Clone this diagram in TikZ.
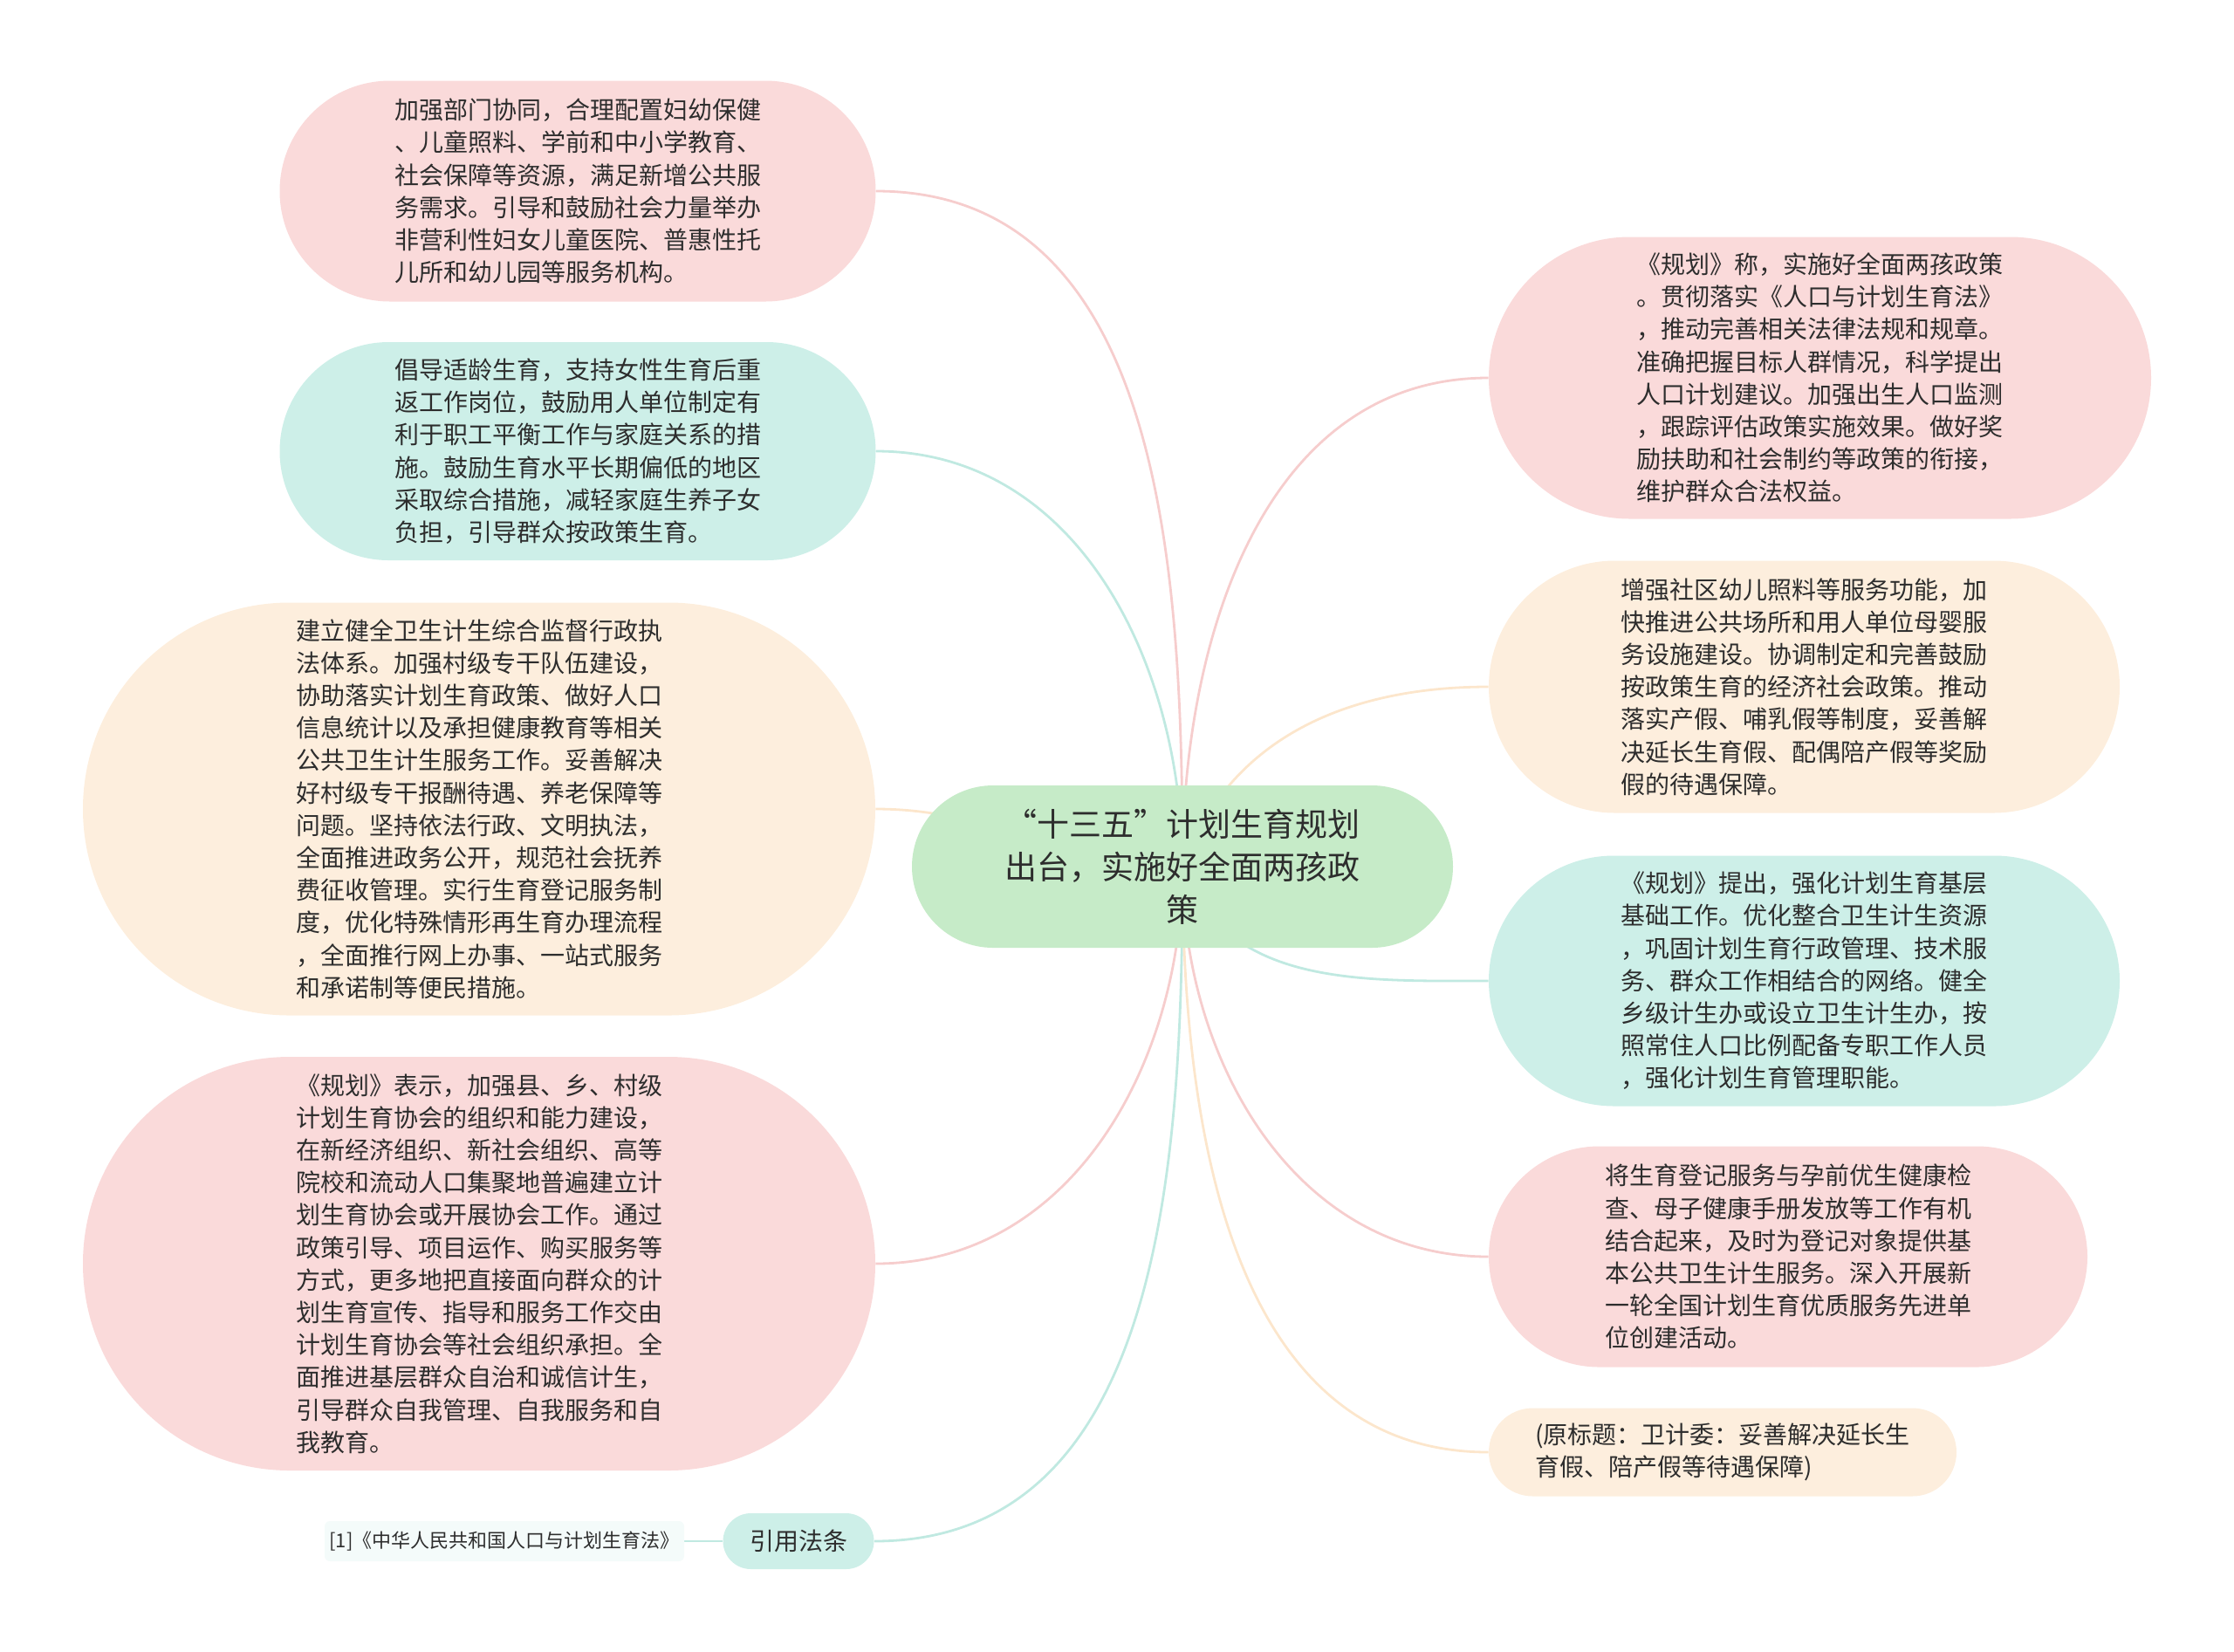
\documentclass[tikz,border=0pt]{standalone}
\usepackage{fontspec}
\setmainfont{Noto Sans CJK SC}
\usetikzlibrary{shapes.misc, backgrounds}
\definecolor{pinkfill}{RGB}{250,218,218}
\definecolor{cyanfill}{RGB}{205,239,232}
\definecolor{peachfill}{RGB}{253,238,221}
\definecolor{greenfill}{RGB}{198,235,200}
\definecolor{notefill}{RGB}{244,251,250}
\definecolor{pinkline}{RGB}{246,205,205}
\definecolor{cyanline}{RGB}{192,233,225}
\definecolor{peachline}{RGB}{252,230,204}
\definecolor{inktext}{RGB}{45,45,45}

\begin{document}
\begin{tikzpicture}[
        x=1pt, y=1pt,
        bubble/.style 2 args={rounded rectangle, inner sep=0pt,
                      minimum width=#1, minimum height=#2,
                      align=left, text=inktext,
                      font=\fontsize{14}{18.6}\selectfont},
        link/.style={draw=#1, line width=1.4pt},
    ]
        \useasboundingbox (0,0) rectangle (1280,-946);

        % centre topic
        \node[bubble={310pt}{93pt}, fill=greenfill, align=center,
              font=\fontsize{18.5}{24.5}\selectfont] (hub) at (677.5,-496.5)
              {“十三五”计划生育规划\\出台，实施好全面两孩政\\策};

        % left branches
        \node[bubble={341.5pt}{126.5pt}, fill=pinkfill] (staff) at (331,-109.5)
              {加强部门协同，合理配置妇幼保健\\、儿童照料、学前和中小学教育、\\社会保障等资源，满足新增公共服\\务需求。引导和鼓励社会力量举办\\非营利性妇女儿童医院、普惠性托\\儿所和幼儿园等服务机构。};
        \node[bubble={341.5pt}{125pt}, fill=cyanfill] (work) at (331,-258.5)
              {倡导适龄生育，支持女性生育后重\\返工作岗位，鼓励用人单位制定有\\利于职工平衡工作与家庭关系的措\\施。鼓励生育水平长期偏低的地区\\采取综合措施，减轻家庭生养子女\\负担，引导群众按政策生育。};
        \node[bubble={454pt}{236.5pt}, fill=peachfill] (supervise) at (274.5,-463.5)
              {建立健全卫生计生综合监督行政执\\法体系。加强村级专干队伍建设，\\协助落实计划生育政策、做好人口\\信息统计以及承担健康教育等相关\\公共卫生计生服务工作。妥善解决\\好村级专干报酬待遇、养老保障等\\问题。坚持依法行政、文明执法，\\全面推进政务公开，规范社会抚养\\费征收管理。实行生育登记服务制\\度，优化特殊情形再生育办理流程\\，全面推行网上办事、一站式服务\\和承诺制等便民措施。};
        \node[bubble={454pt}{237pt}, fill=pinkfill] (assoc) at (274.5,-724)
              {《规划》表示，加强县、乡、村级\\计划生育协会的组织和能力建设，\\在新经济组织、新社会组织、高等\\院校和流动人口集聚地普遍建立计\\划生育协会或开展协会工作。通过\\政策引导、项目运作、购买服务等\\方式，更多地把直接面向群众的计\\划生育宣传、指导和服务工作交由\\计划生育协会等社会组织承担。全\\面推进基层群众自治和诚信计生，\\引导群众自我管理、自我服务和自\\我教育。};
        \node[bubble={86.5pt}{32pt}, fill=cyanfill, align=center] (cite) at (457.5,-883)
              {引用法条};
        \node[rectangle, rounded corners=3pt, fill=notefill, inner sep=0pt,
              minimum width=206pt, minimum height=23pt, text=inktext,
              font=\fontsize{11}{13}\selectfont] (lawref) at (289,-883)
              {[1]《中华人民共和国人口与计划生育法》};

        % right branches
        \node[bubble={379.5pt}{161.5pt}, fill=pinkfill] (law) at (1042.75,-216.5)
              {《规划》称，实施好全面两孩政策\\。贯彻落实《人口与计划生育法》\\，推动完善相关法律法规和规章。\\准确把握目标人群情况，科学提出\\人口计划建议。加强出生人口监测\\，跟踪评估政策实施效果。做好奖\\励扶助和社会制约等政策的衔接，\\维护群众合法权益。};
        \node[bubble={361.5pt}{144.5pt}, fill=peachfill] (care) at (1033.75,-393.5)
              {增强社区幼儿照料等服务功能，加\\快推进公共场所和用人单位母婴服\\务设施建设。协调制定和完善鼓励\\按政策生育的经济社会政策。推动\\落实产假、哺乳假等制度，妥善解\\决延长生育假、配偶陪产假等奖励\\假的待遇保障。};
        \node[bubble={361.5pt}{143.5pt}, fill=cyanfill] (grass) at (1033.75,-562)
              {《规划》提出，强化计划生育基层\\基础工作。优化整合卫生计生资源\\，巩固计划生育行政管理、技术服\\务、群众工作相结合的网络。健全\\乡级计生办或设立卫生计生办，按\\照常住人口比例配备专职工作人员\\，强化计划生育管理职能。};
        \node[bubble={343pt}{126.5pt}, fill=pinkfill] (reg) at (1024.5,-720)
              {将生育登记服务与孕前优生健康检\\查、母子健康手册发放等工作有机\\结合起来，及时为登记对象提供基\\本公共卫生计生服务。深入开展新\\一轮全国计划生育优质服务先进单\\位创建活动。};
        \node[bubble={268pt}{50.5pt}, fill=peachfill] (title) at (987,-832)
              {(原标题：卫计委：妥善解决延长生\\育假、陪产假等待遇保障)};

        % connectors
        \begin{scope}[on background layer]
            \draw[link=pinkline]  (hub.center) to[out=90, in=0] (staff.east);
            \draw[link=cyanline]  (hub.center) to[out=90, in=0] (work.east);
            \draw[link=peachline] (hub.center) to[out=180, in=0] (supervise.east);
            \draw[link=pinkline]  (hub.center) to[out=-90, in=0] (assoc.east);
            \draw[link=cyanline]  (hub.center) to[out=-90, in=0] (cite.east);
            \draw[link=cyanline]  (lawref.east) -- (cite.west);
            \draw[link=pinkline]  (hub.center) to[out=90, in=180] (law.west);
            \draw[link=peachline] (hub.center) to[out=70, in=180] (care.west);
            \draw[link=cyanline]  (hub.center) to[out=-70, in=180] (grass.west);
            \draw[link=pinkline]  (hub.center) to[out=-90, in=180] (reg.west);
            \draw[link=peachline] (hub.center) to[out=-90, in=180] (title.west);
        \end{scope}
    \end{tikzpicture}
\end{document}
